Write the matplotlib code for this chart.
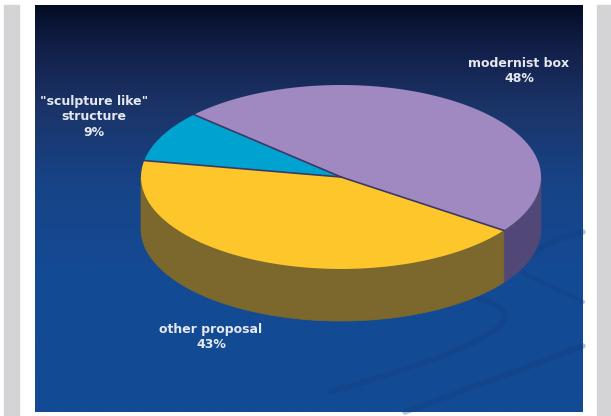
import numpy as np
import matplotlib
matplotlib.use("Agg")
import matplotlib.pyplot as plt
from matplotlib.patches import Polygon, Rectangle
from matplotlib.colors import LinearSegmentedColormap
from matplotlib.path import Path
from matplotlib.patches import PathPatch

# data
labels = ['modernist box', '"sculpture like"\nstructure', 'other proposal']
values = [48, 9, 43]
top_colors = ['#a088c0', '#00a3d0', '#fdc62a']
side_colors = ['#524878', '#005a80', '#7c682c']
label_pos = [(519, 71), (94, 117), (211, 337)]

# pie geometry (pixel space)
cx, cy = 341, 177
rx, ry = 200, 92
depth = 52
start = -35.5

fig = plt.figure(figsize=(6.11, 4.16), dpi=100)
ax = fig.add_axes([0, 0, 1, 1])
ax.set_xlim(0, 611)
ax.set_ylim(416, 0)
ax.axis('off')
fig.patch.set_facecolor('white')

# grey side strips
ax.add_patch(Rectangle((4, 5), 15, 411, color='#d4d4d6', zorder=0))
ax.add_patch(Rectangle((597, 5), 14, 411, color='#d4d4d6', zorder=0))

# background gradient panel
cmap = LinearSegmentedColormap.from_list('bg', [
    (0.0, '#040c24'), (0.1, '#121f48'), (0.25, '#1b3468'),
    (0.45, '#174488'), (0.65, '#144a94'), (1.0, '#134a95')])
grad = np.linspace(0, 1, 256).reshape(-1, 1)
ax.imshow(grad, cmap=cmap, extent=[35, 583, 412, 5], aspect='auto', zorder=1)

# faint swooshes in background
def swoosh(pts, lw):
    codes = [Path.MOVETO] + [Path.CURVE4] * (len(pts) - 1)
    ax.add_patch(PathPatch(Path(pts, codes), fill=False, edgecolor='#103c7c',
                           lw=lw, alpha=0.3, zorder=2, capstyle='round'))

swoosh([(583, 232), (555, 238), (535, 250), (520, 262)], 4)
swoosh([(470, 296), (530, 310), (530, 335), (330, 392)], 4)
swoosh([(523, 273), (545, 285), (565, 292), (583, 302)], 3)
swoosh([(583, 346), (520, 370), (450, 395), (405, 412)], 4)

# angles
fracs = np.array(values) / np.sum(values)
bounds = start + 360 * np.concatenate([[0], np.cumsum(fracs)])


def pt(theta_deg, dy=0):
    t = np.radians(theta_deg)
    return cx + rx * np.cos(t), cy - ry * np.sin(t) + dy


# sides (only front half, theta in 180..360)
for i in range(len(values)):
    a, b = bounds[i], bounds[i + 1]
    for off in (-360, 0, 360):
        lo = max(a + off, 180)
        hi = min(b + off, 360)
        if hi > lo:
            th = np.linspace(lo, hi, 80)
            top = [pt(t) for t in th]
            bot = [pt(t, depth) for t in th[::-1]]
            ax.add_patch(Polygon(top + bot, closed=True, facecolor=side_colors[i],
                                 edgecolor=side_colors[i], lw=0.5, zorder=3))

# top faces
for i in range(len(values)):
    th = np.linspace(bounds[i], bounds[i + 1], 150)
    poly = [(cx, cy)] + [pt(t) for t in th]
    ax.add_patch(Polygon(poly, closed=True, facecolor=top_colors[i],
                         edgecolor='none', zorder=4))

# dividing lines
for b in bounds[:-1]:
    x1, y1 = pt(b)
    ax.plot([cx, x1], [cy, y1], color='#3c3866', lw=1.2, zorder=5)

# labels
for i in range(len(values)):
    x, y = label_pos[i]
    ax.text(x, y, '%s\n%d%%' % (labels[i], values[i]), ha='center', va='center',
            color='#e6e8f0', fontsize=9, fontweight='bold', linespacing=1.25,
            family='DejaVu Sans', zorder=6)

fig.savefig('out.png', dpi=100, facecolor='white')
